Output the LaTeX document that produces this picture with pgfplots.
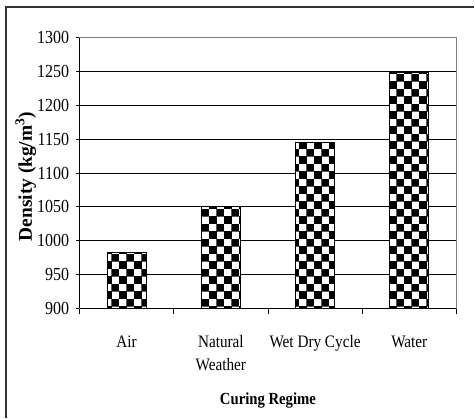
\documentclass[border=0pt]{standalone}
\usepackage{fontspec}
\setmainfont{Liberation Serif}[FakeStretch=0.87]
\newfontfamily\plainserif{Liberation Serif}
\usepackage{pgfplots}
\pgfplotsset{compat=1.18}
\usetikzlibrary{patterns}
\pgfdeclarepatternformonly{bigchecker}{\pgfpointorigin}{\pgfqpoint{15pt}{15pt}}{\pgfqpoint{15pt}{15pt}}{%
  \pgfpathrectangle{\pgfpointorigin}{\pgfqpoint{8pt}{8pt}}%
  \pgfpathrectangle{\pgfqpoint{7.5pt}{7.5pt}}{\pgfqpoint{8pt}{8pt}}%
  \pgfusepath{fill}}
\begin{document}
\begin{tikzpicture}[x=1pt,y=1pt]
\path (0,0) rectangle (475,418);
\draw[line width=1.5pt,color=black!80] (6,-2) -- (6,411) -- (477,411);
\begin{axis}[
  at={(80pt,108pt)}, anchor=south west,
  scale only axis, width=379pt, height=272pt,
  xmin=-0.5, xmax=3.5, ymin=900, ymax=1300,
  ytick={900,950,...,1300},
  xtick={0,1,2,3},
  xticklabels={Air,{Natural\\Weather},Wet Dry Cycle,Water},
  major x tick style={draw=none},
  minor xtick={-0.5,0.5,1.5,2.5,3.5},
  minor tick length=6pt,
  major tick length=4pt,
  tick align=outside,
  xtick pos=bottom, ytick pos=left,
  tick style={black, line width=0.8pt},
  ymajorgrids, grid style={black, line width=0.8pt},
  axis line style={black!50, line width=1pt},
  /pgf/number format/assume math mode=true,
  /pgf/number format/set thousands separator={},
  yticklabel style={font=\fontsize{18.5}{22}\selectfont, xshift=-3pt},
  xticklabel style={font=\fontsize{17.6}{22.6}\selectfont, align=center, yshift=-20pt},
  ylabel={\textbf{Density (kg/m\textsuperscript{3})}},
  ylabel style={at={(axis description cs:-0.1425,0.487)}, anchor=center, font=\plainserif\fontsize{19.5}{22}\selectfont},
  xlabel={\textbf{Curing Regime}},
  xlabel style={at={(axis description cs:0.5,-0.342)}, anchor=center, font=\fontsize{17}{20}\selectfont},
  clip=false,
]
\addplot[ybar, bar width=39pt, draw=black, line width=1pt, fill=white,
  postaction={pattern=bigchecker, pattern color=black}]
  coordinates {(0,983) (1,1050) (2,1145) (3,1248)};
\draw[black, line width=1pt] (rel axis cs:0,0) -- (rel axis cs:0,1);
\draw[black, line width=1.3pt] (rel axis cs:0,0) -- (rel axis cs:1,0);
\end{axis}
\end{tikzpicture}
\end{document}
